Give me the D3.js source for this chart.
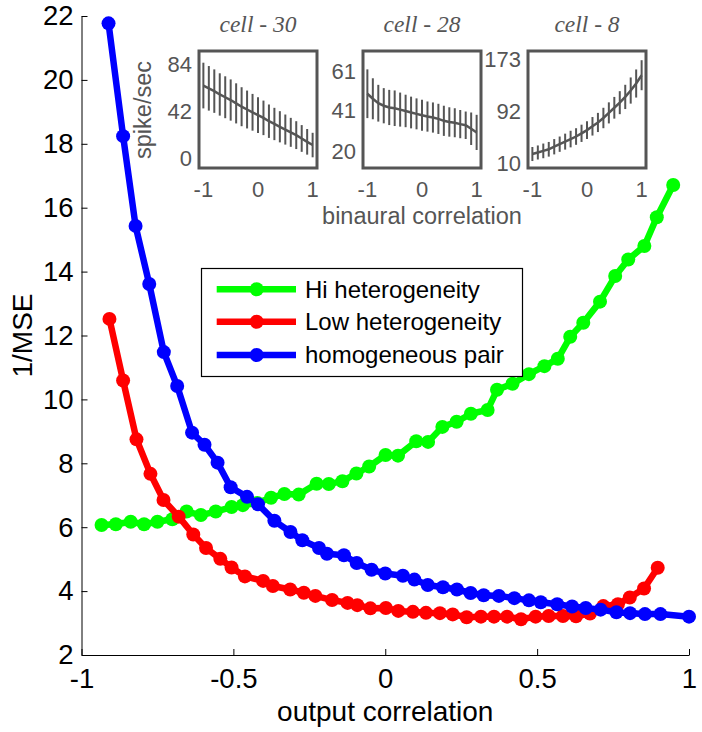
<!DOCTYPE html>
<html>
  <head>
    <meta charset="utf-8">
    <title>1/MSE vs output correlation</title>
    <style>
      body {
        margin: 0;
        background: #fff;
        font-family: 'Liberation Sans', Arial, sans-serif;
      }
      .tick line {
        stroke: #000;
      }
      path.domain {
        stroke: #000;
      }
    </style>
  </head>
  <body>
    <svg width="702" height="732"></svg>
    <script src="https://d3js.org/d3.v7.min.js"></script>
    <script>
      // main series
      const hiX = [-0.934, -0.887, -0.838, -0.794, -0.750, -0.701, -0.654, -0.607, -0.558, -0.506,
        -0.469, -0.421, -0.376, -0.332, -0.285, -0.226, -0.186, -0.141, -0.095, -0.053,
        0.001, 0.042, 0.102, 0.141, 0.188, 0.235, 0.282, 0.337, 0.368, 0.419,
        0.473, 0.524, 0.568, 0.609, 0.652, 0.707, 0.757, 0.800, 0.853, 0.894, 0.948];
      const hiY = [6.07, 6.09, 6.17, 6.09, 6.17, 6.25, 6.49, 6.38, 6.49, 6.63,
        6.69, 6.76, 6.92, 7.04, 7.02, 7.36, 7.35, 7.44, 7.68, 7.90,
        8.26, 8.24, 8.69, 8.67, 9.14, 9.30, 9.55, 9.67, 10.30, 10.49,
        10.79, 11.04, 11.27, 11.96, 12.40, 13.06, 13.86, 14.38, 14.80, 15.70, 16.71];

      const lowX = [-0.908, -0.863, -0.819, -0.773, -0.730, -0.680, -0.632, -0.590, -0.543, -0.506,
        -0.462, -0.402, -0.370, -0.313, -0.268, -0.230, -0.175, -0.124, -0.092, -0.049,
        0.002, 0.043, 0.091, 0.134, 0.180, 0.222, 0.268, 0.315, 0.358, 0.401,
        0.447, 0.495, 0.538, 0.585, 0.628, 0.674, 0.718, 0.766, 0.805, 0.852, 0.897];
      const lowY = [12.52, 10.59, 8.75, 7.67, 6.85, 6.33, 5.77, 5.35, 5.01, 4.74,
        4.46, 4.32, 4.16, 4.05, 3.95, 3.85, 3.72, 3.63, 3.56, 3.46,
        3.47, 3.38, 3.35, 3.32, 3.31, 3.27, 3.18, 3.20, 3.20, 3.20,
        3.12, 3.20, 3.22, 3.22, 3.21, 3.30, 3.53, 3.59, 3.80, 4.08, 4.73];

      const homX = [-0.911, -0.863, -0.822, -0.777, -0.729, -0.685, -0.636, -0.595, -0.552, -0.509,
        -0.455, -0.419, -0.365, -0.312, -0.273, -0.218, -0.192, -0.136, -0.094, -0.045,
        0.000, 0.058, 0.096, 0.140, 0.190, 0.236, 0.281, 0.324, 0.374, 0.425,
        0.473, 0.512, 0.566, 0.615, 0.660, 0.709, 0.761, 0.806, 0.855, 0.906, 1.000];
      const homY = [21.77, 18.24, 15.43, 13.61, 11.48, 10.42, 8.96, 8.58, 8.02, 7.25,
        6.95, 6.72, 6.20, 5.85, 5.59, 5.35, 5.17, 5.12, 4.88, 4.67,
        4.55, 4.48, 4.36, 4.19, 4.12, 4.05, 3.94, 3.87, 3.85, 3.78,
        3.71, 3.65, 3.59, 3.52, 3.47, 3.42, 3.34, 3.31, 3.28, 3.28, 3.20];

      const seriesNames = ['Hi heterogeneity', 'Low heterogeneity', 'homogeneous pair'];
      const seriesColors = ['#00ff00', '#ff0000', '#0000ff'];

      const xTicks = [-1, -0.5, 0, 0.5, 1];
      const xTickLabels = ['-1', '-0.5', '0', '0.5', '1'];
      const yTicks = [2, 4, 6, 8, 10, 12, 14, 16, 18, 20, 22];

      // inset tuning curves (binaural correlation -1..1)
      const bcX = [-1, -0.9, -0.8, -0.7, -0.6, -0.5, -0.4, -0.3, -0.2, -0.1, 0,
        0.1, 0.2, 0.3, 0.4, 0.5, 0.6, 0.7, 0.8, 0.9, 1];
      const cell30Mean = [65, 62.5, 60, 57, 54.5, 52, 49, 46, 43.5, 41, 38.5,
        36, 33, 30.5, 28, 25.5, 23, 20.5, 17.5, 14.5, 11.6];
      const cell30Err = [20.5, 20, 19.5, 19, 18.8, 18.5, 18, 17.5, 17, 16.5, 16,
        15.5, 15, 14.5, 14, 13.5, 13, 12.5, 12, 11.5, 11];
      const cell28Mean = [49.6, 47, 44.7, 43.4, 42.5, 42.1, 41.4, 40.7, 39.9, 39.2, 38.5,
        37.8, 37.3, 36.6, 35.6, 35, 34.6, 33.9, 33.3, 31.5, 29.6];
      const cell28Err = [12.6, 10.6, 9.5, 9.1, 9.1, 9.2, 8.8, 8.4, 8.2, 8, 8,
        7.8, 7.8, 7.8, 7.8, 7.6, 7.5, 7.3, 7.1, 8.4, 9.1];
      const cell8Mean = [24.6, 27, 29.5, 32, 36, 40, 44, 48, 52, 57, 62,
        68, 74, 81, 89, 97, 105, 114, 124, 135, 148];
      const cell8Err = [11, 11, 11.5, 11.5, 12, 12, 12.5, 13, 13, 13.5, 14,
        14.5, 15, 16, 16.5, 17, 18, 19, 20.5, 22, 23.5];

      const insetTitles = ['cell - 30', 'cell - 28', 'cell - 8'];
      const insetYTicks = [[0, 42, 84], [20, 41, 61], [10, 92, 173]];
      const insetYDomains = [[-9, 96], [11.2, 71.7], [2.7, 185.9]];
      const insetXTicks = [-1, 0, 1];

      const svg = d3.select('svg');

      const x = d3.scaleLinear().domain([-1, 1]).range([81.5, 689]);
      const y = d3.scaleLinear().domain([2, 22]).range([655, 16]);

      // axes, ticks pointing inward like matlab
      svg.append('g')
        .attr('transform', `translate(0,${y(2)})`)
        .call(d3.axisBottom(x)
          .tickValues(xTicks)
          .tickFormat((d, i) => xTickLabels[i])
          .tickSizeInner(-6)
          .tickSizeOuter(0)
          .tickPadding(13))
        .call(g => g.selectAll('text')
          .attr('fill', '#000')
          .attr('font-size', 27.5)
          .attr('font-family', 'Liberation Sans, Arial, sans-serif'));

      svg.append('g')
        .attr('transform', `translate(${x(-1)},0)`)
        .call(d3.axisLeft(y)
          .tickValues(yTicks)
          .tickSizeInner(-6)
          .tickSizeOuter(0)
          .tickPadding(8))
        .call(g => g.selectAll('text')
          .attr('fill', '#000')
          .attr('font-size', 27.5)
          .attr('font-family', 'Liberation Sans, Arial, sans-serif'));

      svg.append('text')
        .attr('x', x(0))
        .attr('y', 721)
        .attr('text-anchor', 'middle')
        .attr('font-size', 28)
        .text('output correlation');

      svg.append('text')
        .attr('transform', `translate(32,${(y(2) + y(22)) / 2}) rotate(-90)`)
        .attr('text-anchor', 'middle')
        .attr('font-size', 28)
        .text('1/MSE');

      // series: green first, blue on top
      const allSeries = [
        hiX.map((d, i) => [d, hiY[i]]),
        lowX.map((d, i) => [d, lowY[i]]),
        homX.map((d, i) => [d, homY[i]])
      ];
      const line = d3.line().x(d => x(d[0])).y(d => y(d[1]));

      allSeries.forEach((pts, k) => {
        const g = svg.append('g');
        g.append('path')
          .datum(pts)
          .attr('d', line)
          .attr('fill', 'none')
          .attr('stroke', seriesColors[k])
          .attr('stroke-width', 6.5)
          .attr('stroke-linejoin', 'round');
        g.selectAll('circle')
          .data(pts)
          .enter().append('circle')
            .attr('cx', d => x(d[0]))
            .attr('cy', d => y(d[1]))
            .attr('r', 7)
            .attr('fill', seriesColors[k]);
      });

      // legend
      const legend = svg.append('g');
      legend.append('rect')
        .attr('x', 201.5)
        .attr('y', 268.5)
        .attr('width', 321)
        .attr('height', 108)
        .attr('fill', '#fff')
        .attr('stroke', '#000')
        .attr('stroke-width', 1.2);
      const rowY = [289.3, 321.7, 355];
      seriesNames.forEach((name, i) => {
        legend.append('line')
          .attr('x1', 216.7).attr('x2', 296)
          .attr('y1', rowY[i]).attr('y2', rowY[i])
          .attr('stroke', seriesColors[i])
          .attr('stroke-width', 6.5);
        legend.append('circle')
          .attr('cx', 256.7).attr('cy', rowY[i]).attr('r', 7)
          .attr('fill', seriesColors[i]);
        legend.append('text')
          .attr('x', 305).attr('y', rowY[i] + 8.4)
          .attr('font-size', 24)
          .text(name);
      });

      // insets
      const insetGray = '#555';
      const panelX = [199, 363, 528];
      const panelY = 51, panelW = 118, panelH = 117;
      const insetData = [
        [cell30Mean, cell30Err],
        [cell28Mean, cell28Err],
        [cell8Mean, cell8Err]
      ];

      insetData.forEach(([mean, err], p) => {
        const ix = d3.scaleLinear().domain([-1.08, 1.08]).range([panelX[p], panelX[p] + panelW]);
        const iy = d3.scaleLinear().domain(insetYDomains[p]).range([panelY + panelH, panelY]);
        const g = svg.append('g');

        g.selectAll('line.err')
          .data(bcX)
          .enter().append('line')
            .attr('class', 'err')
            .attr('x1', d => ix(d)).attr('x2', d => ix(d))
            .attr('y1', (d, i) => iy(mean[i] - err[i]))
            .attr('y2', (d, i) => iy(mean[i] + err[i]))
            .attr('stroke', insetGray)
            .attr('stroke-width', 2);

        g.append('path')
          .datum(bcX.map((d, i) => [d, mean[i]]))
          .attr('d', d3.line().x(d => ix(d[0])).y(d => iy(d[1])))
          .attr('fill', 'none')
          .attr('stroke', insetGray)
          .attr('stroke-width', 2.5);

        g.append('rect')
          .attr('x', panelX[p]).attr('y', panelY)
          .attr('width', panelW).attr('height', panelH)
          .attr('fill', 'none')
          .attr('stroke', insetGray)
          .attr('stroke-width', 3);

        g.selectAll('text.yt')
          .data(insetYTicks[p])
          .enter().append('text')
            .attr('class', 'yt')
            .attr('x', panelX[p] - 7)
            .attr('y', d => iy(d))
            .attr('dy', '0.35em')
            .attr('text-anchor', 'end')
            .attr('font-size', 22)
            .attr('fill', insetGray)
            .text(d => d);

        g.selectAll('text.xt')
          .data(insetXTicks)
          .enter().append('text')
            .attr('class', 'xt')
            .attr('x', d => ix(d))
            .attr('y', 197)
            .attr('text-anchor', 'middle')
            .attr('font-size', 22)
            .attr('fill', insetGray)
            .text(d => d < 0 ? '-' + Math.abs(d) : d);

        g.append('text')
          .attr('x', panelX[p] + panelW / 2)
          .attr('y', 31.5)
          .attr('text-anchor', 'middle')
          .attr('font-family', 'Liberation Serif, Times New Roman, serif')
          .attr('font-style', 'italic')
          .attr('font-size', 23.5)
          .attr('fill', insetGray)
          .text(insetTitles[p]);
      });

      svg.append('text')
        .attr('x', panelX[1] + panelW / 2)
        .attr('y', 224)
        .attr('text-anchor', 'middle')
        .attr('font-size', 23.5)
        .attr('fill', insetGray)
        .text('binaural correlation');

      svg.append('text')
        .attr('transform', `translate(151,110) rotate(-90)`)
        .attr('text-anchor', 'middle')
        .attr('font-size', 23.5)
        .attr('fill', insetGray)
        .text('spike/sec');
    </script>
  </body>
</html>
